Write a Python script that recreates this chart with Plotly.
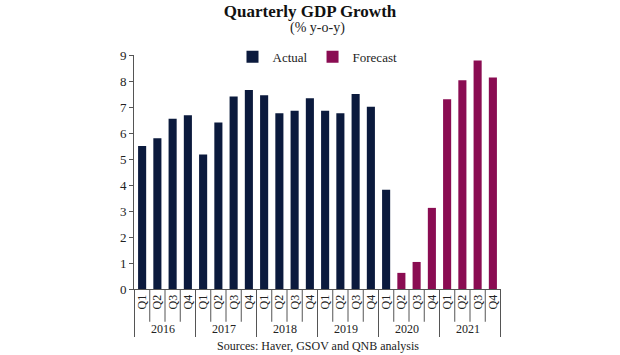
import plotly.graph_objects as go

years = ["2016"] * 4 + ["2017"] * 4 + ["2018"] * 4 + ["2019"] * 4 + ["2020"] * 4 + ["2021"] * 4
quarters = ["Q1", "Q2", "Q3", "Q4"] * 6

actual_years = years[:17]
actual_quarters = quarters[:17]
actual_values = [5.5, 5.8, 6.55, 6.68, 5.17, 6.4, 7.4, 7.65, 7.45, 6.76, 6.86, 7.34,
                 6.86, 6.76, 7.5, 7.01, 3.82]

forecast_years = years[17:]
forecast_quarters = quarters[17:]
forecast_values = [0.62, 1.04, 3.12, 7.3, 8.03, 8.79, 8.13]

y_ticks = list(range(0, 10))

FONT = "Liberation Serif"
NAVY = "#0b1a3d"
PLUM = "#8a0c52"

fig = go.Figure()
fig.add_trace(go.Bar(x=[actual_years, actual_quarters], y=actual_values, name="Actual",
                     marker=dict(color=NAVY, line=dict(width=0))))
fig.add_trace(go.Bar(x=[forecast_years, forecast_quarters], y=forecast_values, name="Forecast",
                     marker=dict(color=PLUM, line=dict(width=0))))

n = len(years)
shapes = []
for i in range(n + 1):
    shapes.append(dict(type="line", xref="x", yref="paper", x0=i - 0.5, x1=i - 0.5,
                       y0=0, y1=-0.14, line=dict(color="#555", width=1)))

fig.update_layout(
    width=620, height=355,
    margin=dict(l=134, r=119, t=55, b=66, autoexpand=False),
    paper_bgcolor="white", plot_bgcolor="white",
    barmode="overlay", bargap=0.47,
    font=dict(family=FONT, color="#222", size=12),
    title=dict(text="<b>Quarterly GDP Growth</b>", x=0.5, xanchor="center",
               yref="container", y=1 - 11 / 355, yanchor="middle",
               font=dict(family=FONT, size=17, color="#111")),
    annotations=[
        dict(text="(% y-o-y)", xref="paper", yref="paper", x=0.5, y=1.0, yshift=27,
             yanchor="middle", showarrow=False, font=dict(family=FONT, size=14, color="#222")),
        dict(text="Sources: Haver, GSOV and QNB analysis", xref="paper", yref="paper",
             x=0.5, y=0, yshift=-57, yanchor="middle", showarrow=False,
             font=dict(family=FONT, size=12, color="#222")),
    ],
    legend=dict(orientation="h", x=0.5, xanchor="center", y=1.056, yanchor="top",
                font=dict(family=FONT, size=13), bgcolor="rgba(0,0,0,0)",
                itemwidth=30, tracegroupgap=0),
    shapes=shapes,
    showlegend=True,
)
fig.update_xaxes(type="multicategory", showline=True, linecolor="#555", linewidth=1,
                 ticks="", tickangle=-90, tickfont=dict(family=FONT, size=12),
                 showdividers=True, dividercolor="#555", dividerwidth=1, showgrid=False,
                 automargin=False)
fig.update_yaxes(range=[0, 9], tickvals=y_ticks, showline=True, linecolor="#555", linewidth=1,
                 ticks="outside", ticklen=4, tickcolor="#555", showgrid=False, zeroline=False,
                 tickfont=dict(family=FONT, size=13), automargin=False)

fig.write_html("out.html", config={"displayModeBar": False},
               post_script="document.body.style.margin='0';")
